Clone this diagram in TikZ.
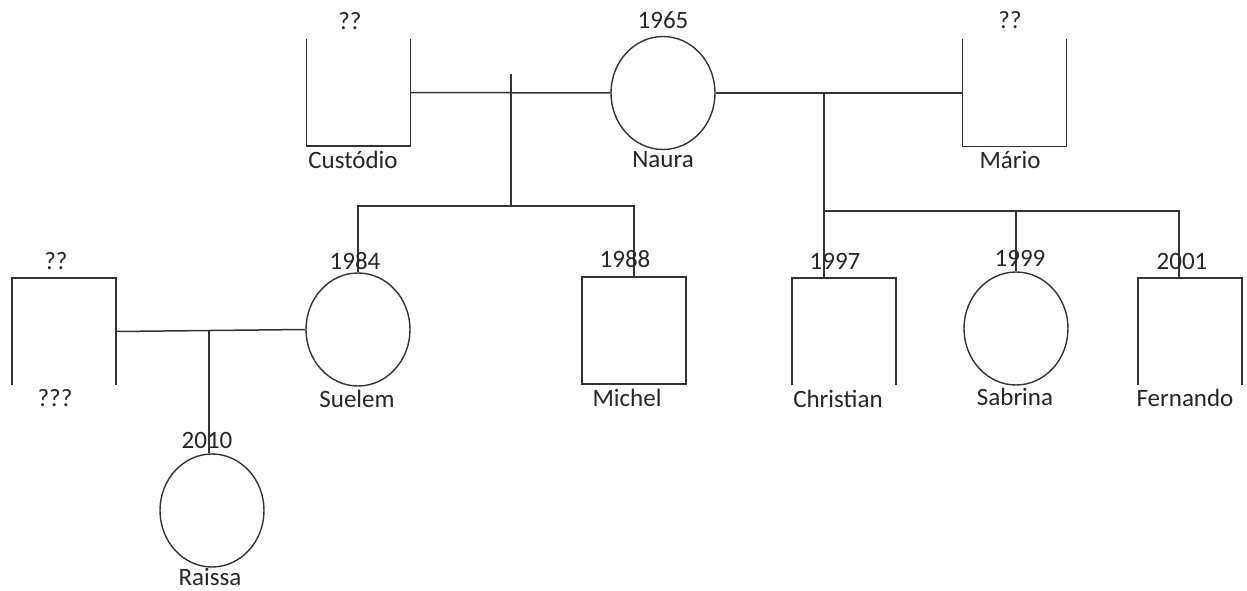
\documentclass[tikz,border=0pt]{standalone}
\usepackage{fontspec}
\setmainfont{Carlito}
\usetikzlibrary{shapes.geometric,calc}
\begin{document}
\begin{tikzpicture}[x=1pt,y={(0,-1pt)},
  ln/.style={line width=1.5pt,draw=black!80},
  fem/.style={ellipse,draw=black!80,line width=1.4pt,minimum width=104pt,minimum height=113pt,inner sep=0pt},
  malebox/.style={rectangle,minimum width=104pt,minimum height=107pt,inner sep=0pt},
  lbl/.style={font=\fontsize{25}{28}\selectfont,text=black!85,inner sep=0pt}
]
\useasboundingbox (0,0) rectangle (1247,591);
% persons
\node[malebox] (cus) at (358.5,92.5) {};
\node[fem] (nau) at (663,93) {};
\node[malebox] (mar) at (1014.5,93) {};
\node[malebox] (unk) at (64,331.5) {};
\node[fem] (sue) at (358,329.5) {};
\node[malebox,draw=black!80,line width=1.5pt] (mic) at (634,330.5) {};
\node[malebox] (chr) at (844,331.5) {};
\node[fem] (sab) at (1016,328.5) {};
\node[malebox] (fer) at (1190,331.5) {};
\node[fem] (rai) at (212,510.5) {};
% open boxes
\draw[ln] (cus.north west) -- (cus.south west) -- (cus.south east) -- (cus.north east);
\draw[ln] (mar.north west) -- (mar.south west) -- (mar.south east) -- (mar.north east);
\draw[ln] (unk.south west) -- (unk.north west) -- (unk.north east) -- (unk.south east);
\draw[ln] (chr.south west) -- (chr.north west) -- (chr.north east) -- (chr.south east);
\draw[ln] (fer.south west) -- (fer.north west) -- (fer.north east) -- (fer.south east);
% couples
\draw[ln] (cus.east) -- (nau.west);
\draw[ln] (nau.east) -- (mar.west);
\draw[ln] (unk.east) -- (sue.west);
% children of Custodio + Naura
\coordinate (m1) at (511,74);
\coordinate (b1) at (511,206);
\draw[ln] (m1) -- (b1);
\draw[ln] (b1) -| (sue.north);
\draw[ln] (b1) -| (mic.north);
% children of Naura + Mario
\coordinate (m2) at (824,93);
\coordinate (b2) at (824,211);
\coordinate (cx) at (824,278);
\coordinate (fx) at (1179,278);
\draw[ln] (m2) -- (cx);
\draw[ln] (b2) -| (sab.north);
\draw[ln] (b2) -| (fx);
% child of Suelem
\coordinate (m3) at ($(unk.east)!0.49!(sue.west)$);
\draw[ln] (m3) -- (m3 |- rai.north);
% labels
\node[lbl] (t1) at (350,21) {??};
\node[lbl] (t2) at (663,20) {1965};
\node[lbl] (t3) at (1010,20) {??};
\node[lbl] (t4) at (353,160) {Custódio};
\node[lbl] (t5) at (663,160) {Naura};
\node[lbl] (t6) at (1010,160) {Mário};
\node[lbl] (t7) at (56,261) {??};
\node[lbl] (t8) at (55,398) {???};
\node[lbl] (t9) at (355,261) {1984};
\node[lbl] (t10) at (357,399) {Suelem};
\node[lbl] (t11) at (625,259) {1988};
\node[lbl] (t12) at (627,398) {Michel};
\node[lbl] (t13) at (835,261) {1997};
\node[lbl] (t14) at (838,399) {Christian};
\node[lbl] (t15) at (1020,258) {1999};
\node[lbl] (t16) at (1015,397) {Sabrina};
\node[lbl] (t17) at (1182,261) {2001};
\node[lbl] (t18) at (1185,398) {Fernando};
\node[lbl] (t19) at (207,440) {2010};
\node[lbl] (t20) at (210,577) {Raissa};
\end{tikzpicture}
\end{document}
